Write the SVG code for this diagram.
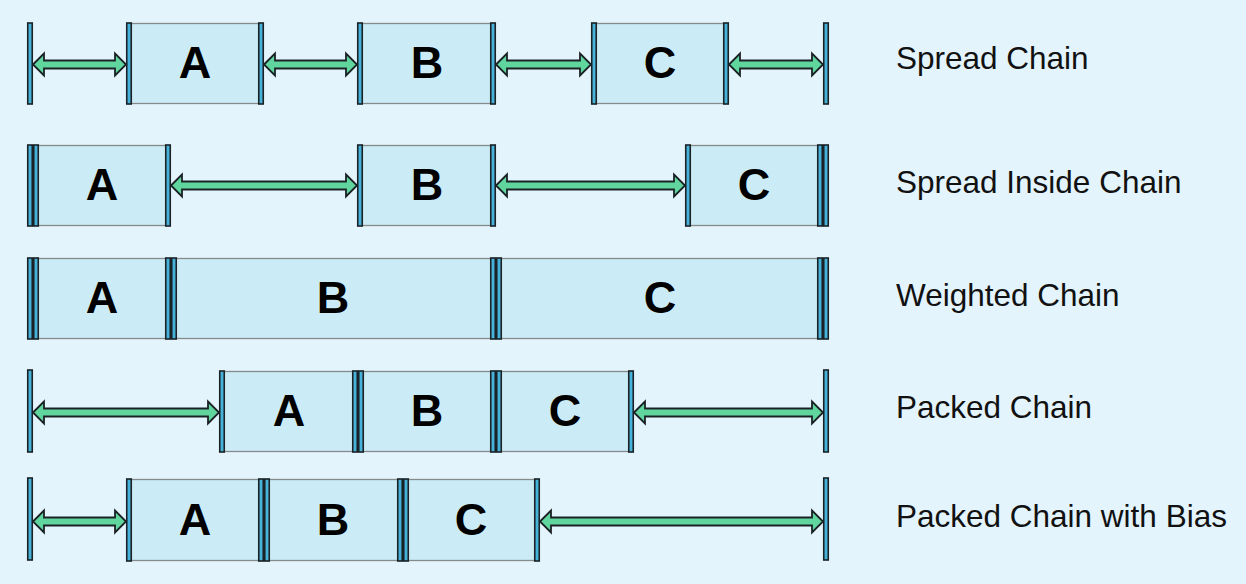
<svg xmlns="http://www.w3.org/2000/svg" width="1246" height="584" viewBox="0 0 1246 584">
<style>
.bg{fill:#E3F4FC}
.body{fill:#CBECF6;stroke:#858a8c;stroke-width:1.3}
.bar{fill:#47B2D9;stroke:#1b2226;stroke-width:1.6}
.arr{fill:#60D69E;stroke:#1b2226;stroke-width:1.8;stroke-linejoin:miter}
.lt{font-family:"Liberation Sans",Arial,sans-serif;font-weight:bold;font-size:45px;fill:#000;text-anchor:middle}
.lbl{font-family:"Liberation Sans",Arial,sans-serif;font-size:31.5px;fill:#111}
</style>
<rect class="bg" x="0" y="0" width="1246" height="584"/>

<!-- Row 1: Spread Chain -->
<g id="row1">
<g id="r1-start"><rect class="bar" x="27.75" y="23" width="4.5" height="81"/></g>
<g id="r1-A"><rect class="body" x="129" y="23.5" width="132" height="80"/><rect class="bar" x="126.75" y="23" width="4.5" height="81"/><rect class="bar" x="258.75" y="23" width="4.5" height="81"/><text class="lt" x="195" y="78">A</text></g>
<g id="r1-B"><rect class="body" x="360" y="23.5" width="133" height="80"/><rect class="bar" x="357.75" y="23" width="4.5" height="81"/><rect class="bar" x="490.75" y="23" width="4.5" height="81"/><text class="lt" x="427" y="78">B</text></g>
<g id="r1-C"><rect class="body" x="594" y="23.5" width="132" height="80"/><rect class="bar" x="591.75" y="23" width="4.5" height="81"/><rect class="bar" x="723.75" y="23" width="4.5" height="81"/><text class="lt" x="660" y="78">C</text></g>
<g id="r1-end"><rect class="bar" x="823.75" y="23" width="4.5" height="81"/></g>
</g>

<!-- Row 2: Spread Inside Chain -->
<g id="row2">
<g id="r2-start"><rect class="bar" x="27.75" y="145" width="4.5" height="81"/></g>
<g id="r2-A"><rect class="body" x="36" y="145.5" width="132" height="80"/><rect class="bar" x="33.75" y="145" width="4.5" height="81"/><rect class="bar" x="165.75" y="145" width="4.5" height="81"/><text class="lt" x="102" y="200">A</text></g>
<g id="r2-B"><rect class="body" x="360" y="145.5" width="133" height="80"/><rect class="bar" x="357.75" y="145" width="4.5" height="81"/><rect class="bar" x="490.75" y="145" width="4.5" height="81"/><text class="lt" x="427" y="200">B</text></g>
<g id="r2-C"><rect class="body" x="688" y="145.5" width="132" height="80"/><rect class="bar" x="685.75" y="145" width="4.5" height="81"/><rect class="bar" x="817.75" y="145" width="4.5" height="81"/><text class="lt" x="754" y="200">C</text></g>
<g id="r2-end"><rect class="bar" x="823.75" y="145" width="4.5" height="81"/></g>
</g>

<!-- Row 3: Weighted Chain -->
<g id="row3">
<g id="r3-start"><rect class="bar" x="27.75" y="258" width="4.5" height="81"/></g>
<g id="r3-A"><rect class="body" x="36" y="258.5" width="132" height="80"/><rect class="bar" x="33.75" y="258" width="4.5" height="81"/><rect class="bar" x="165.75" y="258" width="4.5" height="81"/><text class="lt" x="102" y="313">A</text></g>
<g id="r3-B"><rect class="body" x="174" y="258.5" width="319" height="80"/><rect class="bar" x="171.75" y="258" width="4.5" height="81"/><rect class="bar" x="490.75" y="258" width="4.5" height="81"/><text class="lt" x="333" y="313">B</text></g>
<g id="r3-C"><rect class="body" x="499" y="258.5" width="321" height="80"/><rect class="bar" x="496.75" y="258" width="4.5" height="81"/><rect class="bar" x="817.75" y="258" width="4.5" height="81"/><text class="lt" x="660" y="313">C</text></g>
<g id="r3-end"><rect class="bar" x="823.75" y="258" width="4.5" height="81"/></g>
</g>

<!-- Row 4: Packed Chain -->
<g id="row4">
<g id="r4-start"><rect class="bar" x="27.75" y="370" width="4.5" height="82"/></g>
<g id="r4-A"><rect class="body" x="222" y="371.5" width="133" height="80"/><rect class="bar" x="219.75" y="371" width="4.5" height="81"/><rect class="bar" x="352.75" y="371" width="4.5" height="81"/><text class="lt" x="289" y="426">A</text></g>
<g id="r4-B"><rect class="body" x="361" y="371.5" width="132" height="80"/><rect class="bar" x="358.75" y="371" width="4.5" height="81"/><rect class="bar" x="490.75" y="371" width="4.5" height="81"/><text class="lt" x="427" y="426">B</text></g>
<g id="r4-C"><rect class="body" x="499" y="371.5" width="132" height="80"/><rect class="bar" x="496.75" y="371" width="4.5" height="81"/><rect class="bar" x="628.75" y="371" width="4.5" height="81"/><text class="lt" x="565" y="426">C</text></g>
<g id="r4-end"><rect class="bar" x="823.75" y="370" width="4.5" height="82"/></g>
</g>

<!-- Row 5: Packed Chain with Bias -->
<g id="row5">
<g id="r5-start"><rect class="bar" x="27.75" y="478" width="4.5" height="82"/></g>
<g id="r5-A"><rect class="body" x="129" y="479.5" width="132" height="81"/><rect class="bar" x="126.75" y="479" width="4.5" height="82"/><rect class="bar" x="258.75" y="479" width="4.5" height="82"/><text class="lt" x="195" y="535">A</text></g>
<g id="r5-B"><rect class="body" x="267" y="479.5" width="133" height="81"/><rect class="bar" x="264.75" y="479" width="4.5" height="82"/><rect class="bar" x="397.75" y="479" width="4.5" height="82"/><text class="lt" x="333" y="535">B</text></g>
<g id="r5-C"><rect class="body" x="406" y="479.5" width="131" height="81"/><rect class="bar" x="403.75" y="479" width="4.5" height="82"/><rect class="bar" x="534.75" y="479" width="4.5" height="82"/><text class="lt" x="471" y="535">C</text></g>
<g id="r5-end"><rect class="bar" x="823.75" y="478" width="4.5" height="82"/></g>
</g>

<!-- Connectors -->
<g id="connectors">
<path class="arr" d="M33,64.5 L44,53.5 L44,60.5 L115,60.5 L115,53.5 L126,64.5 L115,75.5 L115,68.5 L44,68.5 L44,75.5 Z"/>
<path class="arr" d="M264,64.5 L275,53.5 L275,60.5 L346,60.5 L346,53.5 L357,64.5 L346,75.5 L346,68.5 L275,68.5 L275,75.5 Z"/>
<path class="arr" d="M496,64.5 L507,53.5 L507,60.5 L580,60.5 L580,53.5 L591,64.5 L580,75.5 L580,68.5 L507,68.5 L507,75.5 Z"/>
<path class="arr" d="M729,64.5 L740,53.5 L740,60.5 L812,60.5 L812,53.5 L823,64.5 L812,75.5 L812,68.5 L740,68.5 L740,75.5 Z"/>
<path class="arr" d="M171,185.5 L182,174.5 L182,181.5 L346,181.5 L346,174.5 L357,185.5 L346,196.5 L346,189.5 L182,189.5 L182,196.5 Z"/>
<path class="arr" d="M496,185.5 L507,174.5 L507,181.5 L674,181.5 L674,174.5 L685,185.5 L674,196.5 L674,189.5 L507,189.5 L507,196.5 Z"/>
<path class="arr" d="M33,412.5 L44,401.5 L44,408.5 L208,408.5 L208,401.5 L219,412.5 L208,423.5 L208,416.5 L44,416.5 L44,423.5 Z"/>
<path class="arr" d="M634,412.5 L645,401.5 L645,408.5 L812,408.5 L812,401.5 L823,412.5 L812,423.5 L812,416.5 L645,416.5 L645,423.5 Z"/>
<path class="arr" d="M33,521.5 L44,510.5 L44,517.5 L115,517.5 L115,510.5 L126,521.5 L115,532.5 L115,525.5 L44,525.5 L44,532.5 Z"/>
<path class="arr" d="M540,521.5 L551,510.5 L551,517.5 L812,517.5 L812,510.5 L823,521.5 L812,532.5 L812,525.5 L551,525.5 L551,532.5 Z"/>
</g>

<!-- Labels -->
<g id="labels">
<text class="lbl" x="896" y="69">Spread Chain</text>
<text class="lbl" x="896" y="193">Spread Inside Chain</text>
<text class="lbl" x="896" y="306">Weighted Chain</text>
<text class="lbl" x="896" y="418">Packed Chain</text>
<text class="lbl" x="896" y="527">Packed Chain with Bias</text>
</g>
</svg>
